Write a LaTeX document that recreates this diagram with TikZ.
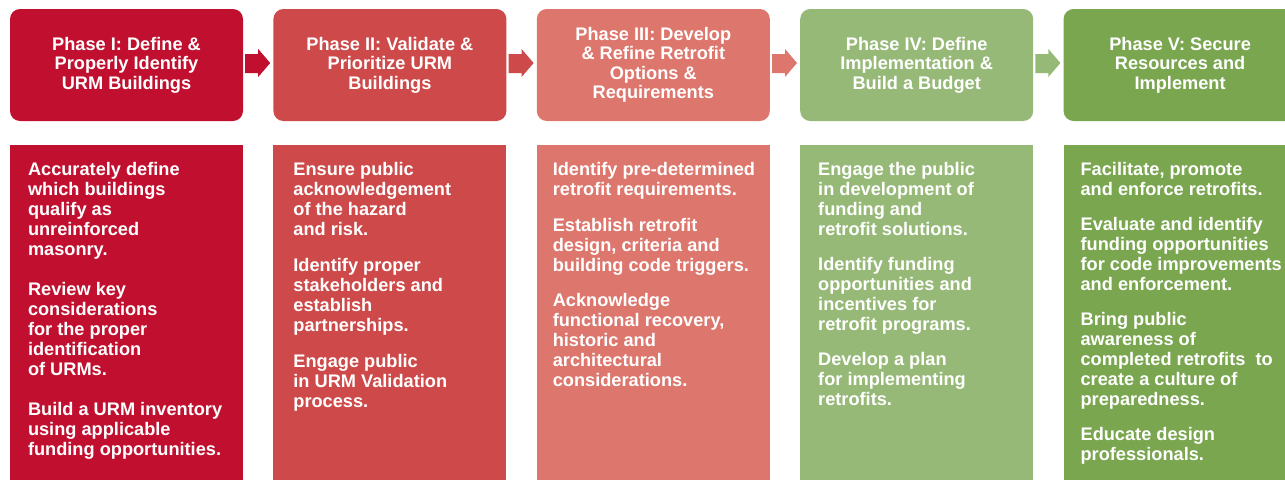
\documentclass[tikz,border=0pt]{standalone}
\usepackage{fontspec}
\setmainfont{Liberation Sans}
\usetikzlibrary{positioning,calc}

\definecolor{phaseone}{RGB}{193,16,47}
\definecolor{phasetwo}{RGB}{206,74,74}
\definecolor{phasethree}{RGB}{221,118,108}
\definecolor{phasefour}{RGB}{151,185,120}
\definecolor{phasefive}{RGB}{122,166,80}

\tikzset{
    phasehead/.style={rounded corners=10pt, minimum width=233pt, minimum height=112pt,
        inner sep=0pt, text=white, align=center,
        font=\bfseries\fontsize{18.2}{19.5}\selectfont},
    phasebody/.style={minimum width=233pt, minimum height=335pt, inner sep=0pt},
    bodytext/.style={inner sep=0pt, text=white, align=left,
        font=\bfseries\fontsize{18.2}{20}\selectfont}
}

\begin{document}
\begin{tikzpicture}[x=1pt,y=-1pt]
    \clip (0,0) rectangle (1285,480);

    % phase headers
    \node[phasehead, fill=phaseone] (h1) at (126.5,65) {Phase I: Define \&\\Properly Identify\\URM Buildings};
    \node[phasehead, fill=phasetwo, right=30pt of h1] (h2) {Phase II: Validate \&\\Prioritize URM\\Buildings};
    \node[phasehead, fill=phasethree, right=30pt of h2] (h3) {Phase III: Develop\\\& Refine Retrofit\\Options \&\\Requirements};
    \node[phasehead, fill=phasefour, right=30pt of h3] (h4) {Phase IV: Define\\Implementation \&\\Build a Budget};
    \node[phasehead, fill=phasefive, right=30pt of h4] (h5) {Phase V: Secure\\Resources and\\Implement};

    % block arrows
    \fill[phaseone] ($(h1.east)+(2,-11)$) -- ($(h1.east)+(15,-11)$) -- ($(h1.east)+(15,-16)$) -- ($(h1.east)+(27,-2)$)
        -- ($(h1.east)+(15,12)$) -- ($(h1.east)+(15,8)$) -- ($(h1.east)+(2,8)$) -- cycle;
    \fill[phasetwo] ($(h2.east)+(2,-11)$) -- ($(h2.east)+(15,-11)$) -- ($(h2.east)+(15,-16)$) -- ($(h2.east)+(27,-2)$)
        -- ($(h2.east)+(15,12)$) -- ($(h2.east)+(15,8)$) -- ($(h2.east)+(2,8)$) -- cycle;
    \fill[phasethree] ($(h3.east)+(2,-11)$) -- ($(h3.east)+(15,-11)$) -- ($(h3.east)+(15,-16)$) -- ($(h3.east)+(27,-2)$)
        -- ($(h3.east)+(15,12)$) -- ($(h3.east)+(15,8)$) -- ($(h3.east)+(2,8)$) -- cycle;
    \fill[phasefour] ($(h4.east)+(2,-11)$) -- ($(h4.east)+(15,-11)$) -- ($(h4.east)+(15,-16)$) -- ($(h4.east)+(27,-2)$)
        -- ($(h4.east)+(15,12)$) -- ($(h4.east)+(15,8)$) -- ($(h4.east)+(2,8)$) -- cycle;

    % phase bodies
    \node[phasebody, fill=phaseone, below=24pt of h1] (b1) {};
    \node[phasebody, fill=phasetwo, below=24pt of h2] (b2) {};
    \node[phasebody, fill=phasethree, below=24pt of h3] (b3) {};
    \node[phasebody, fill=phasefour, below=24pt of h4] (b4) {};
    \node[phasebody, fill=phasefive, below=24pt of h5] (b5) {};

    \node[bodytext, below right=17pt and 18pt of b1.north west] (t1) {Accurately define\\which buildings\\qualify as\\unreinforced\\masonry.\\[20pt]
        Review key\\considerations\\for the proper\\identification\\of URMs.\\[20pt]
        Build a URM inventory\\using applicable\\funding opportunities.};
    \node[bodytext, below right=17pt and 20pt of b2.north west] (t2) {Ensure public\\acknowledgement\\of the hazard\\and risk.\\[16pt]
        Identify proper\\stakeholders and\\establish\\partnerships.\\[16pt]
        Engage public\\in URM Validation\\process.};
    \node[bodytext, below right=17pt and 16pt of b3.north west] (t3) {Identify pre-determined\\retrofit requirements.\\[16pt]
        Establish retrofit\\design, criteria and\\building code triggers.\\[15pt]
        Acknowledge\\functional recovery,\\historic and\\architectural\\considerations.};
    \node[bodytext, below right=17pt and 18pt of b4.north west] (t4) {Engage the public\\in development of\\funding and\\retrofit solutions.\\[15pt]
        Identify funding\\opportunities and\\incentives for\\retrofit programs.\\[15pt]
        Develop a plan\\for implementing\\retrofits.};
    \node[bodytext, below right=17pt and 17pt of b5.north west] (t5) {Facilitate, promote\\and enforce retrofits.\\[15pt]
        Evaluate and identify\\funding opportunities\\for code improvements\\and enforcement.\\[15pt]
        Bring public\\awareness of\\completed retrofits\ \ to\\create a culture of\\preparedness.\\[15pt]
        Educate design\\professionals.};
\end{tikzpicture}
\end{document}
